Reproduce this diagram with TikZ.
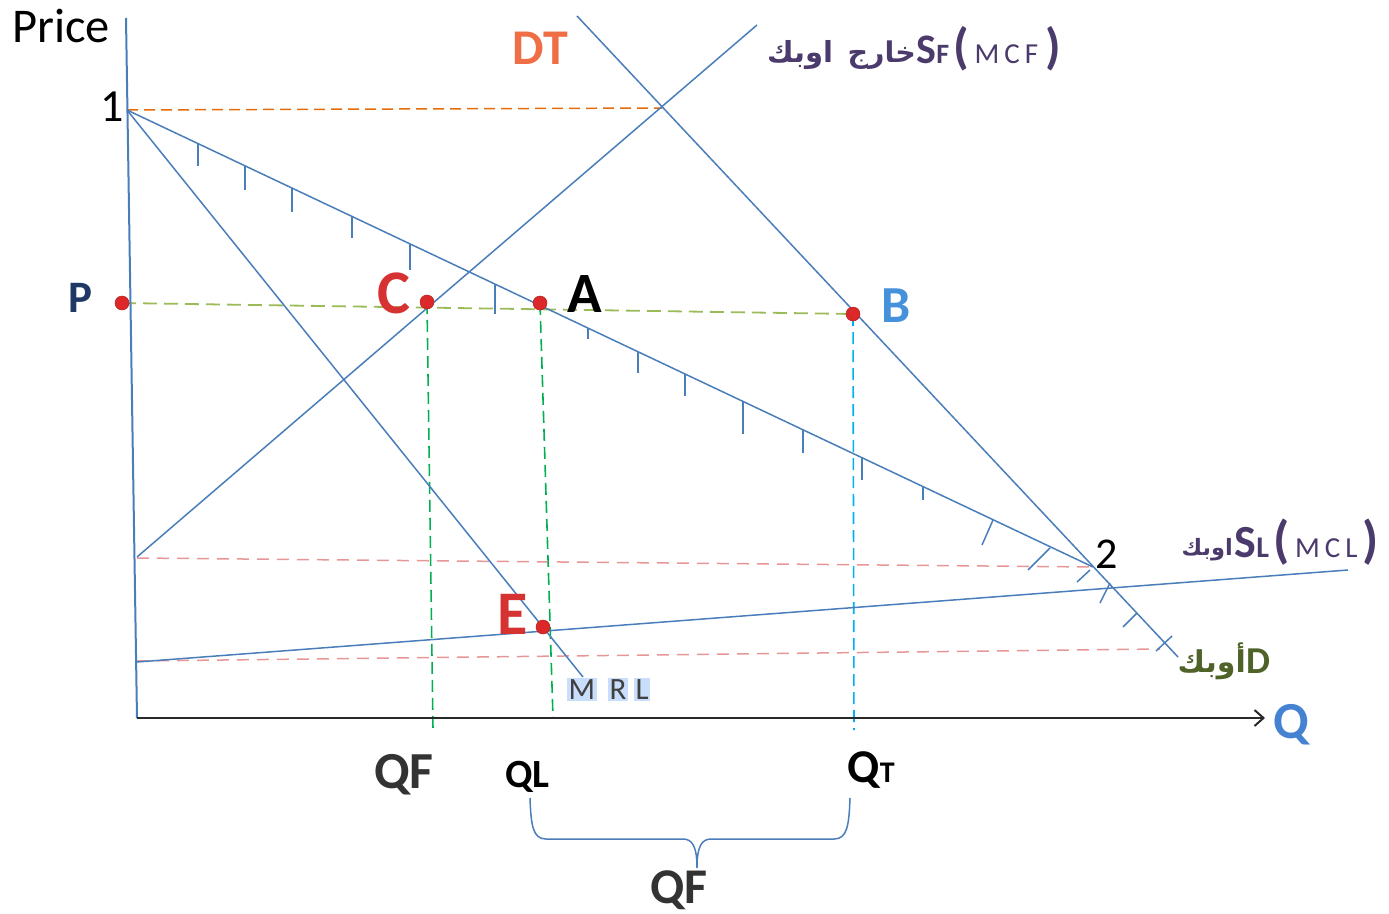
\documentclass[tikz,border=0pt]{standalone}
\usepackage{fontspec}
\setmainfont{Carlito}
\newfontfamily\arabicfont[Script=Arabic]{DejaVu Sans}
\TeXXeTstate=1
\usetikzlibrary{arrows.meta,calc}
\definecolor{lineblue}{RGB}{74,126,187}
\definecolor{axisdark}{RGB}{40,40,40}
\definecolor{orangedash}{RGB}{228,108,10}
\definecolor{greenlight}{RGB}{155,187,89}
\definecolor{greendash}{RGB}{0,176,80}
\definecolor{cyandash}{RGB}{0,176,240}
\definecolor{pinkdash}{RGB}{230,150,150}
\definecolor{dotred}{RGB}{220,40,40}
\definecolor{labred}{RGB}{215,50,50}
\definecolor{navy}{RGB}{31,56,100}
\definecolor{bblue}{RGB}{70,145,220}
\definecolor{dtorange}{RGB}{240,110,70}
\definecolor{oppurple}{RGB}{75,58,108}
\definecolor{olive}{RGB}{79,98,40}
\definecolor{qblue}{RGB}{70,130,210}
\definecolor{mrlbox}{RGB}{200,222,250}
\newcommand\fsz[1]{\fontsize{#1}{#1}\selectfont}
\newcommand\spc{\hspace{5pt}}
\begin{document}
\begin{tikzpicture}[x=1pt,y=-1pt,
  curve/.style={draw=lineblue, line width=1.5},
  hatch/.style={draw=lineblue, line width=1.5},
  dotmark/.style={circle, fill=dotred, draw=dotred!80!black, line width=0.5, inner sep=0, minimum size=14},
  lbl/.style={inner sep=0, anchor=base west},
  mrlletter/.style={inner sep=1.5, fill=mrlbox, text=black!75, font=\fsz{31}, anchor=base west},
  pinkline/.style={draw=pinkdash, line width=1.5, dash pattern=on 12 off 8},
]
\useasboundingbox (0,0) rectangle (1389,913);

% coordinates
\coordinate (O) at (137,718);
\coordinate (Ytop) at (126,18);
\coordinate (Xend) at (1265,718);
\coordinate (one) at (127,110);
\coordinate (two) at (1093,567);
\coordinate (DTtop) at (577,16);
\coordinate (DTend) at (1178,657);
\coordinate (SFstart) at (137,557);
\coordinate (SFend) at (757,25);
\coordinate (MRLend) at (583,677);
\coordinate (SLstart) at (137,662);
\coordinate (SLend) at (1348,570);
\coordinate (X1) at (662,108);
\coordinate (Pp) at (122,303);
\coordinate (Cp) at (427,302);
\coordinate (Ap) at (540,303);
\coordinate (Bp) at (853,314);
\coordinate (Ep) at (543,627);
\coordinate (Cfoot) at (433,730);
\coordinate (Afoot) at (553,718);
\coordinate (Bfoot) at (854,730);
\coordinate (pinkA1) at (137,558);
\coordinate (pinkB0) at (137,661);
\coordinate (pinkB1) at (1160,649);

% dashed helper lines
\draw[orangedash, line width=1.5, dash pattern=on 11 off 6] (one) -- (X1);
\draw[pinkline] (pinkA1) -- (two);
\draw[pinkline] (pinkB0) -- (pinkB1);
\draw[greenlight, line width=1.8, dash pattern=on 14 off 7] (Pp) -- (Bp);
\draw[greendash, line width=1.6, dash pattern=on 12 off 6] (Cp) -- (Cfoot);
\draw[greendash, line width=1.6, dash pattern=on 12 off 6] (Ap) -- (Afoot);
\draw[cyandash, line width=1.6, dash pattern=on 12 off 6] (Bp) -- (Bfoot);

% axes
\draw[lineblue, line width=2] (Ytop) -- (O);
\draw[axisdark, line width=2.5, -{Straight Barb[length=9,width=16,line width=2]}] (O) -- (Xend);

% curves
\draw[curve] (DTtop) -- (DTend);
\draw[curve] (SFstart) -- (SFend);
\draw[curve] (one) -- (two);
\draw[curve] (one) -- (MRLend);
\draw[curve] (SLstart) -- (SLend);

% hatch ticks on OPEC demand
\foreach \x/\l in {198/22,245/24,292/24,352/22,410/26,495/30,588/11,638/21,685/22,743/33,803/23,862/22,923/13}{
  \draw[hatch] ($(one)!{(\x-127)/966}!(two)$) -- ++(0,\l);
}
\draw[hatch] (993,520) -- (982,545);
\draw[hatch] (1050,548) -- (1028,570);
\draw[hatch] (1090,570) -- (1077,582);
\draw[hatch] (1110,583) -- (1100,603);
\draw[hatch] (1137,613) -- (1123,627);
\draw[hatch] (1172,636) -- (1156,651);

% brace
\draw[lineblue, line width=1.5] (530,798) .. controls (531,826) and (533,839) .. (546,839) -- (683,839)
  .. controls (692,839) and (697,846) .. (697,868)
  .. controls (697,846) and (702,839) .. (711,839) -- (834,839)
  .. controls (847,839) and (849,826) .. (850,798);

% dots
\node[dotmark] (Pd) at (Pp) {};
\node[dotmark] (Cd) at (Cp) {};
\node[dotmark] (Ad) at (Ap) {};
\node[dotmark] (Bd) at (Bp) {};
\node[dotmark] (Ed) at (Ep) {};

% labels
\node[lbl] (price) at (12,42) {\fsz{48.5}Price};
\node[lbl, anchor=base east] (lone) at (124,121) {\fsz{46}1};
\node[lbl] (ltwo) at (1095,568) {\fsz{44}2};
\node[lbl, text=navy] (lP) at (68,312) {\fsz{45}\bfseries P};
\node[lbl, text=labred] (lC) at (377,313) {\fsz{62}\bfseries C};
\node[lbl, text=black] (lA) at (567,312) {\fsz{57}\bfseries A};
\node[lbl, text=bblue] (lB) at (881,322) {\fsz{52}\bfseries B};
\node[lbl, text=labred] (lE) at (497,634) {\fsz{62}\bfseries E};
\node[lbl, text=dtorange] (lDT) at (512,64) {\fsz{50}\bfseries DT};

\node[mrlletter] (mM) at (567,699) {M};
\node[mrlletter] (mR) at (608,699) {R};
\node[mrlletter] (mL) at (634,699) {L};

\node[lbl, text=black!80] (lQF) at (374,788) {\fsz{52}\bfseries QF};
\node[lbl, text=black] (lQL) at (505,787) {\fsz{40}\bfseries QL};
\node[lbl, text=black] (lQTq) at (847,782) {\fsz{47}\bfseries Q};
\node[lbl, text=black] (lQTt) at (lQTq.base east) {\fsz{30}\bfseries T};
\node[lbl, text=black!80] (lQF2) at (650,903) {\fsz{50}\bfseries QF};
\node[lbl, text=qblue] (lQ) at (1273,738) {\fsz{52}\bfseries Q};

% S_F (MCF) label
\node[lbl, text=oppurple] (sfAr1) at (767,62) {\arabicfont\bfseries\fsz{29}\beginR اوبك\endR};
\node[lbl, anchor=base east, text=oppurple] (sfAr2) at (916,62) {\arabicfont\bfseries\fsz{28.5}\beginR خارج\endR};
\node[lbl, text=oppurple] (sfS) at (916,63) {\fsz{42}\bfseries S};
\node[lbl, text=oppurple] (sfF) at (sfS.base east) {\fsz{28}\bfseries F};
\node[lbl, text=oppurple] (sfPo) at ([xshift=4]sfF.base east) {\fsz{50}\bfseries (};
\node[lbl, text=oppurple] (sfM) at ([xshift=5]sfPo.base east) {\fsz{29}M\spc C\spc F};
\node[lbl, text=oppurple] (sfPc) at ([xshift=7]sfM.base east) {\fsz{50}\bfseries )};

% S_L (MCL) label
\node[lbl, anchor=base east, text=oppurple] (slAr) at (1233,555) {\arabicfont\bfseries\fsz{22.5}\beginR اوبك\endR};
\node[lbl, text=oppurple] (slS) at (1234,557) {\fsz{46}\bfseries S};
\node[lbl, text=oppurple] (slL) at (slS.base east) {\fsz{30}\bfseries L};
\node[lbl, text=oppurple] (slPo) at ([xshift=4]slL.base east) {\fsz{52}\bfseries (};
\node[lbl, text=oppurple] (slM) at ([xshift=5]slPo.base east) {\fsz{29}M\spc C\spc L};
\node[lbl, text=oppurple] (slPc) at ([xshift=5]slM.base east) {\fsz{52}\bfseries )};

% D label
\node[lbl, anchor=base east, text=olive] (dAr) at (1246,672) {\arabicfont\bfseries\fsz{30}\beginR أوبك\endR};
\node[lbl, text=olive] (dD) at (1246,673) {\fsz{38}\bfseries D};
\end{tikzpicture}
\end{document}
